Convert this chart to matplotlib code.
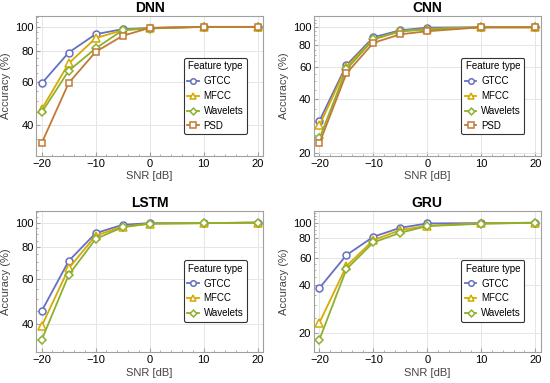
import numpy as np
import matplotlib
matplotlib.use("Agg")
import matplotlib.pyplot as plt
from matplotlib.ticker import FixedLocator, NullFormatter, FixedFormatter

snr = [-20, -15, -10, -5, 0, 10, 20]

# DNN
dnn_gtcc = [59, 78.7, 93.4, 97.9, 99, 100, 100]
dnn_mfcc = [46.4, 71.1, 90, 97, 99, 100, 100]
dnn_wav = [45, 66.4, 81.8, 97, 98.5, 100, 100]
dnn_psd = [33.8, 59.2, 79.2, 92, 99, 100, 100]

# CNN
cnn_gtcc = [30.1, 61.5, 88, 96.2, 99.6, 100, 100]
cnn_mfcc = [28.4, 60, 86.1, 95, 98, 100, 100]
cnn_wav = [24, 58.2, 85.5, 95, 97.1, 100, 100]
cnn_psd = [22.6, 55.3, 81.9, 91.4, 95, 100, 100]

# LSTM
lstm_gtcc = [45, 70.7, 90.9, 98, 99.5, 99.5, 100]
lstm_mfcc = [39.3, 66.1, 88.9, 96.4, 99, 99.5, 100]
lstm_wav = [34.7, 62.3, 86.3, 95.9, 99, 99.5, 100]

# GRU
gru_gtcc = [38.5, 62.3, 81.5, 92.9, 99, 99.5, 100]
gru_mfcc = [23.2, 53, 77.6, 89.8, 95.7, 99, 100]
gru_wav = [18.1, 50.7, 75, 86.4, 95.3, 98.5, 100]

feature_names = ["GTCC", "MFCC", "Wavelets", "PSD"]
colors = {"GTCC": "#6571c0", "MFCC": "#d6aa00", "Wavelets": "#8db02e", "PSD": "#c27a34"}
markers = {"GTCC": "o", "MFCC": "^", "Wavelets": "D", "PSD": "s"}
msizes = {"GTCC": 5, "MFCC": 5.5, "Wavelets": 4.3, "PSD": 4.7}

panels = [
    ("DNN", [dnn_gtcc, dnn_mfcc, dnn_wav, dnn_psd], (30, 111), [40, 60, 80, 100],
     [0.066, 0.593, 0.412, 0.366]),
    ("CNN", [cnn_gtcc, cnn_mfcc, cnn_wav, cnn_psd], (19.2, 116), [20, 40, 60, 80, 100],
     [0.571, 0.593, 0.412, 0.366]),
    ("LSTM", [lstm_gtcc, lstm_mfcc, lstm_wav], (31.1, 111), [40, 60, 80, 100],
     [0.066, 0.081, 0.412, 0.368]),
    ("GRU", [gru_gtcc, gru_mfcc, gru_wav], (15.1, 118.7), [20, 40, 60, 80, 100],
     [0.571, 0.081, 0.412, 0.368]),
]

plt.rcParams['font.family'] = ['Liberation Sans', 'DejaVu Sans']
fig = plt.figure(figsize=(5.5, 3.83), dpi=100)
frame_col = "#a0a0a0"

for title, series, ylim, yticks, pos in panels:
    ax = fig.add_axes(pos)
    ax.set_yscale('log')
    for name, vals in zip(feature_names, series):
        ax.plot(snr, vals, color=colors[name], lw=1.3, marker=markers[name],
                ms=msizes[name], mfc='white', mec=colors[name], mew=1.1, label=name)
    ax.set_xlim(-21, 21)
    ax.set_ylim(*ylim)
    ax.yaxis.set_major_locator(FixedLocator(yticks))
    ax.yaxis.set_major_formatter(FixedFormatter([str(t) for t in yticks]))
    minor = [v for v in range(10, 125, 5) if v not in yticks]
    ax.yaxis.set_minor_locator(FixedLocator(minor))
    ax.yaxis.set_minor_formatter(NullFormatter())
    ax.set_xticks([-20, -10, 0, 10, 20])
    ax.set_xticklabels(["\u221220", "\u221210", "0", "10", "20"])
    ax.set_xticks(np.arange(-20, 21, 2), minor=True)
    ax.grid(True, which='major', color='#e6e6e6', lw=0.7)
    ax.set_axisbelow(True)
    for sp in ax.spines.values():
        sp.set_color(frame_col)
        sp.set_linewidth(0.8)
    ax.tick_params(which='major', length=3, color=frame_col, labelsize=8, pad=2,
                   direction='in')
    ax.tick_params(which='minor', length=1.5, color=frame_col, direction='in')
    ax.set_title(title, fontsize=10, fontweight='bold', pad=3)
    ax.set_xlabel("SNR [dB]", fontsize=8, color='#444444', labelpad=2)
    ax.set_ylabel("Accuracy (%)", fontsize=8, color='#444444', labelpad=3)
    if len(series) == 4:
        anchor = (0.95, 0.12)
    else:
        anchor = (0.95, 0.18)
    leg = ax.legend(title="Feature type", loc='lower right', bbox_to_anchor=anchor,
                    fontsize=7, title_fontsize=7, frameon=True, fancybox=True,
                    handlelength=1.2, handletextpad=0.5, borderpad=0.35,
                    labelspacing=0.5, markerscale=0.8)
    leg.get_frame().set_edgecolor('#333333')
    leg.get_frame().set_linewidth(0.8)
    leg.get_frame().set_alpha(1)

fig.savefig("out.png", dpi=100)
